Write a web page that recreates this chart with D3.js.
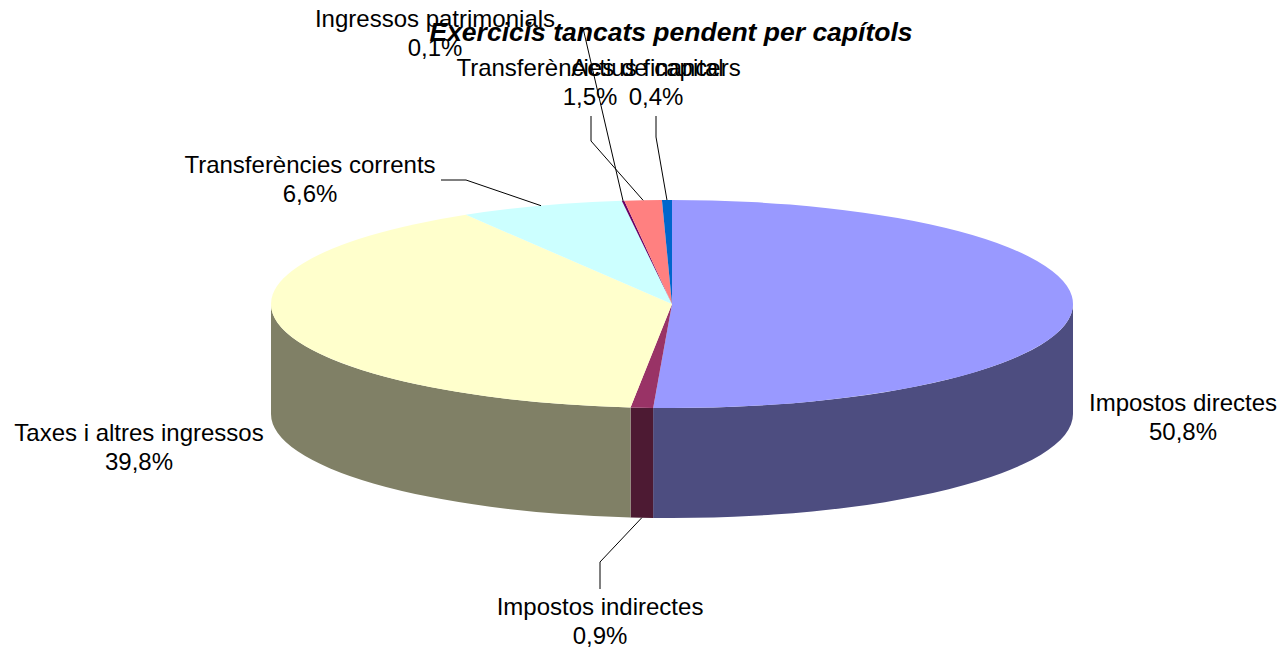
<!DOCTYPE html>
<html>
<head>
<meta charset="utf-8">
<script src="https://d3js.org/d3.v7.min.js"></script>
<style>
  body { margin: 0; background: #fff; }
  svg text { font-family: Arial, "Liberation Sans", sans-serif; fill: #000; }
</style>
</head>
<body>
<svg id="chart" width="1281" height="651"></svg>
<script>
// data
var categories = ["Impostos directes", "Impostos indirectes", "Taxes i altres ingressos",
  "Transferències corrents", "Ingressos patrimonials", "Transferències de capital", "Actius financers"];
var shares = [50.8, 0.9, 39.8, 6.6, 0.1, 1.5, 0.4];
var pctLabels = ["50,8%", "0,9%", "39,8%", "6,6%", "0,1%", "1,5%", "0,4%"];
var colors = ["#9999FF", "#993366", "#FFFFCC", "#CCFFFF", "#660066", "#FF8080", "#0066CC"];

var width = 1281, height = 651;
var cx = 672, cy = 304, rx = 401, ry = 104, depth = 110;

// manual label placement (center x, baseline of first line) and leader elbows
var labelLayout = {
  "Impostos directes": { x: 1183, y: 411 },
  "Impostos indirectes": { x: 600, y: 615, elbow: [[600, 589], [600, 562]] },
  "Taxes i altres ingressos": { x: 139, y: 441 },
  "Transferències corrents": { x: 310, y: 173, elbow: [[441, 180], [466, 180]] },
  "Ingressos patrimonials": { x: 435, y: 27, elbow: [[583, 28]] },
  "Transferències de capital": { x: 590, y: 76, elbow: [[591, 116], [591, 141]] },
  "Actius financers": { x: 656, y: 76, elbow: [[656, 116], [656, 137]] }
};

var svg = d3.select("#chart");

var data = categories.map(function (c, i) {
  return { name: c, value: shares[i], pct: pctLabels[i], color: colors[i] };
});

var pie = d3.pie()
  .sort(null)
  .startAngle(0)
  .endAngle(2 * Math.PI)
  .value(function (d) { return d.value; });

var slices = pie(data);

function pt(a, dy) {
  return [cx + rx * Math.sin(a), cy - ry * Math.cos(a) + (dy || 0)];
}

function topPath(d) {
  var p0 = pt(d.startAngle), p1 = pt(d.endAngle);
  var large = (d.endAngle - d.startAngle) > Math.PI ? 1 : 0;
  return "M" + cx + "," + cy + "L" + p0 + "A" + rx + "," + ry + " 0 " + large + " 1 " + p1 + "Z";
}

// outer wall only where the slice faces the viewer (bottom half of the ellipse)
function sidePath(d) {
  var a0 = Math.max(d.startAngle, Math.PI / 2);
  var a1 = Math.min(d.endAngle, 3 * Math.PI / 2);
  if (a1 <= a0) return null;
  var p0 = pt(a0), p1 = pt(a1), q1 = pt(a1, depth), q0 = pt(a0, depth);
  var large = (a1 - a0) > Math.PI ? 1 : 0;
  return "M" + p0 + "A" + rx + "," + ry + " 0 " + large + " 1 " + p1 +
    "L" + q1 + "A" + rx + "," + ry + " 0 " + large + " 0 " + q0 + "Z";
}

var g = svg.append("g");

g.selectAll(".side")
  .data(slices.filter(function (d) { return sidePath(d) !== null; }))
  .enter().append("path")
  .attr("class", "side")
  .attr("d", sidePath)
  .attr("fill", function (d) {
    var c = d3.rgb(d.data.color);
    return d3.rgb(c.r / 2, c.g / 2, c.b / 2);
  });

g.selectAll(".top")
  .data(slices)
  .enter().append("path")
  .attr("class", "top")
  .attr("d", topPath)
  .attr("fill", function (d) { return d.data.color; });

// leader lines
var line = d3.line();
slices.forEach(function (d) {
  var lay = labelLayout[d.data.name];
  if (!lay.elbow) return;
  var mid = (d.startAngle + d.endAngle) / 2;
  var onFront = mid > Math.PI / 2 && mid < 3 * Math.PI / 2;
  var end = pt(mid, onFront ? depth : 0);
  svg.append("path")
    .attr("d", line(lay.elbow.concat([end])))
    .attr("fill", "none")
    .attr("stroke", "#000")
    .attr("stroke-width", 1);
});

// labels
var labels = svg.selectAll(".lbl")
  .data(slices)
  .enter().append("text")
  .attr("class", "lbl")
  .attr("text-anchor", "middle")
  .style("font-size", "24px")
  .attr("transform", function (d) {
    var lay = labelLayout[d.data.name];
    return "translate(" + lay.x + "," + lay.y + ")";
  });
labels.append("tspan").attr("x", 0).attr("y", 0).text(function (d) { return d.data.name; });
labels.append("tspan").attr("x", 0).attr("y", 29).text(function (d) { return d.data.pct; });

// title
svg.append("text")
  .attr("x", 671)
  .attr("y", 41)
  .attr("text-anchor", "middle")
  .style("font-size", "26.5px")
  .style("font-weight", "bold")
  .style("font-style", "italic")
  .text("Exercicis tancats pendent per capítols");
</script>
</body>
</html>
